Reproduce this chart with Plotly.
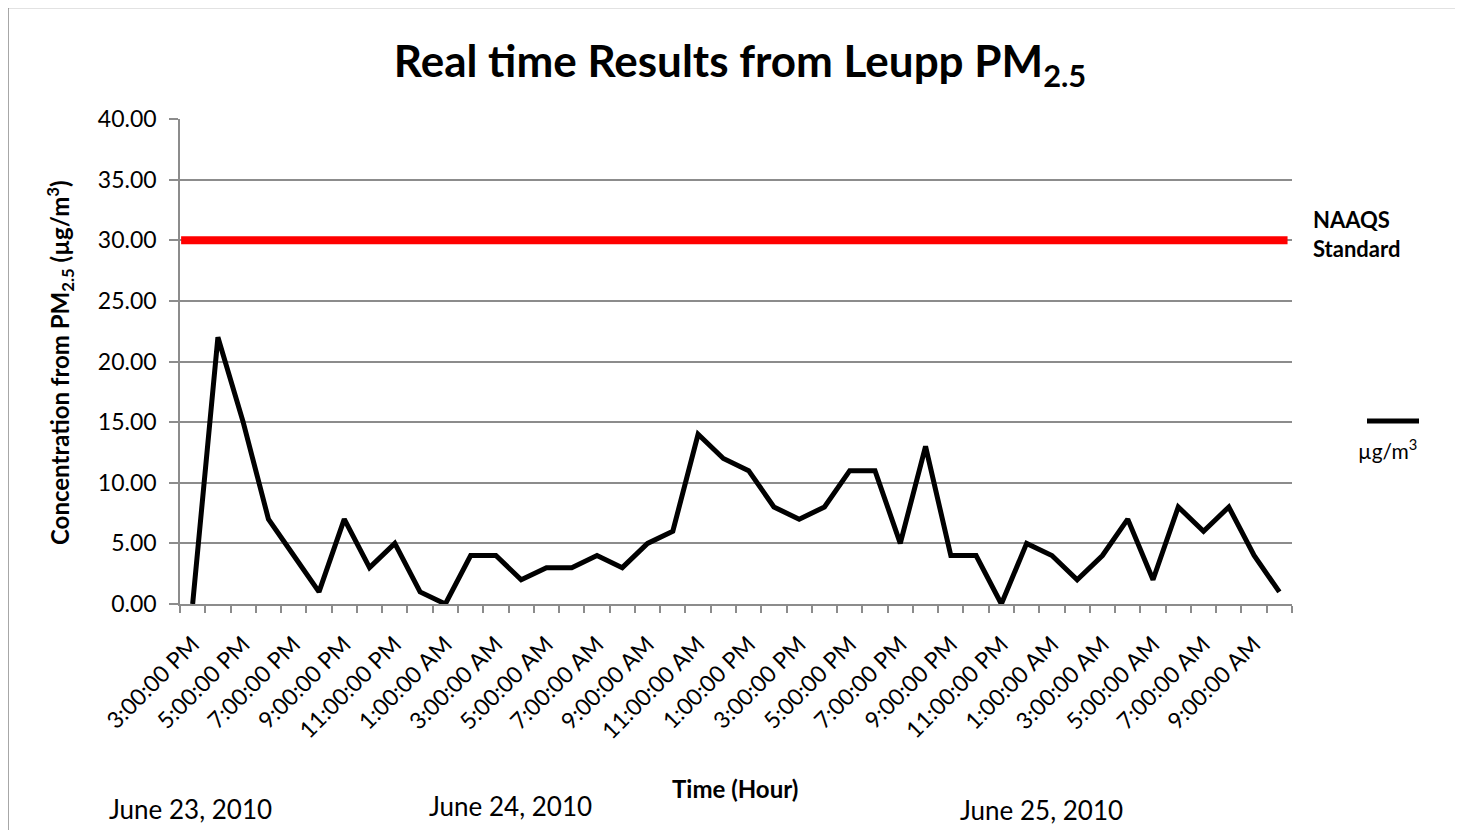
import plotly.graph_objects as go

# ---- data ----
hour_labels = [
    "3:00:00 PM", "4:00:00 PM", "5:00:00 PM", "6:00:00 PM", "7:00:00 PM", "8:00:00 PM",
    "9:00:00 PM", "10:00:00 PM", "11:00:00 PM", "12:00:00 AM", "1:00:00 AM", "2:00:00 AM",
    "3:00:00 AM", "4:00:00 AM", "5:00:00 AM", "6:00:00 AM", "7:00:00 AM", "8:00:00 AM",
    "9:00:00 AM", "10:00:00 AM", "11:00:00 AM", "12:00:00 PM", "1:00:00 PM", "2:00:00 PM",
    "3:00:00 PM", "4:00:00 PM", "5:00:00 PM", "6:00:00 PM", "7:00:00 PM", "8:00:00 PM",
    "9:00:00 PM", "10:00:00 PM", "11:00:00 PM", "12:00:00 AM", "1:00:00 AM", "2:00:00 AM",
    "3:00:00 AM", "4:00:00 AM", "5:00:00 AM", "6:00:00 AM", "7:00:00 AM", "8:00:00 AM",
    "9:00:00 AM", "10:00:00 AM",
]
pm25 = [
    0, 22, 15, 7, 4, 1, 7, 3, 5, 1, 0, 4, 4, 2, 3, 3, 4, 3, 5, 6, 14, 12,
    11, 8, 7, 8, 11, 11, 5, 13, 4, 4, 0, 5, 4, 2, 4, 7, 2, 8, 6, 8, 4, 1,
]
naaqs_standard = 30
y_ticks = [0, 5, 10, 15, 20, 25, 30, 35, 40]
date_labels = ["June 23, 2010", "June 24, 2010", "June 25, 2010"]

FONT = "Lato"
GRID = "#8c8c8c"
OFF = 8  # page body margin

x_idx = list(range(len(pm25)))
tick_idx = x_idx[::2]
tick_txt = hour_labels[::2]

PL, PR, PT, PB = 180, 1292, 119, 604
PW, PH = PR - PL, PB - PT


def px_x(px):
    return (px - PL) / PW


def px_y(py):
    return (PB - py) / PH


fig = go.Figure()
fig.add_trace(go.Scatter(
    x=x_idx, y=pm25, mode="lines", name="µg/m³",
    line=dict(color="black", width=5), showlegend=False,
))

# NAAQS standard line across the plot
fig.add_shape(type="line", xref="paper", yref="y", x0=0.001, x1=0.996,
              y0=naaqs_standard, y1=naaqs_standard,
              line=dict(color="#ff0000", width=8), layer="above")

# outer chart border
fig.add_shape(type="rect", xref="paper", yref="paper",
              x0=px_x(8), x1=px_x(1500), y0=px_y(900), y1=px_y(7.5),
              line=dict(color="#8a8a8a", width=1.5), fillcolor="rgba(0,0,0,0)")

# custom legend
fig.add_shape(type="line", xref="paper", yref="paper",
              x0=px_x(1367), x1=px_x(1419), y0=px_y(421), y1=px_y(421),
              line=dict(color="black", width=5))


def note(text, x, y, size, bold=False, angle=0, xanchor="center", align="center"):
    fig.add_annotation(xref="paper", yref="paper", x=px_x(x), y=px_y(y),
                       xanchor=xanchor, yanchor="middle", align=align,
                       text=f"<b>{text}</b>" if bold else text, showarrow=False,
                       textangle=angle,
                       font=dict(family=FONT, size=size, color="black"))


note("µg/m<sup>3</sup>", 1387, 449, 21)
note("NAAQS<br>Standard", 1311, 234, 22, bold=True, xanchor="left", align="left")
note("Concentration from PM<sub>2.5</sub> (µg/m<sup>3</sup>)", 60, 363, 24, bold=True, angle=-90)
note("Time (Hour)", 735, 788, 24, bold=True)
for txt, px, py in zip(date_labels, [190, 510, 1041], [809, 806, 810]):
    note(txt, px, py, 26)

W, H = 1463 - OFF, 830 - OFF
fig.update_layout(
    width=W, height=H,
    margin=dict(l=PL - OFF, r=W - (PR - OFF), t=PT - OFF, b=H - (PB - OFF)),
    paper_bgcolor="white", plot_bgcolor="white",
    font=dict(family=FONT, color="black"),
    title=dict(text="<b>Real time Results from Leupp PM<sub>2.5</sub></b>",
               x=(740 - OFF) / W, xanchor="center", y=1 - (62 - OFF) / H, yanchor="middle",
               font=dict(family=FONT, size=44, color="black")),
    showlegend=False,
)
fig.update_xaxes(
    range=[-0.5, len(pm25) - 0.5], tickmode="array", tickvals=tick_idx, ticktext=tick_txt,
    tickangle=-45, ticks="", showgrid=False, showline=True, linecolor=GRID, linewidth=1.5,
    tickfont=dict(family=FONT, size=23, color="black"), zeroline=False,
    ticklabelstandoff=16,
    minor=dict(ticks="outside", ticklen=7, tickcolor=GRID, tickwidth=1.5,
               tickvals=[i - 0.5 for i in range(len(pm25) + 1)], showgrid=False),
)
fig.update_yaxes(
    range=[0, 40], tickmode="array", tickvals=y_ticks,
    ticktext=[f"{v:.2f}" for v in y_ticks],
    ticks="outside", ticklen=9, tickcolor=GRID, tickwidth=1.5,
    showgrid=True, gridcolor=GRID, gridwidth=1.5,
    showline=True, linecolor=GRID, linewidth=1.5, zeroline=False,
    ticklabelstandoff=8,
    tickfont=dict(family=FONT, size=23, color="black"),
)

fig.write_html("out.html")
